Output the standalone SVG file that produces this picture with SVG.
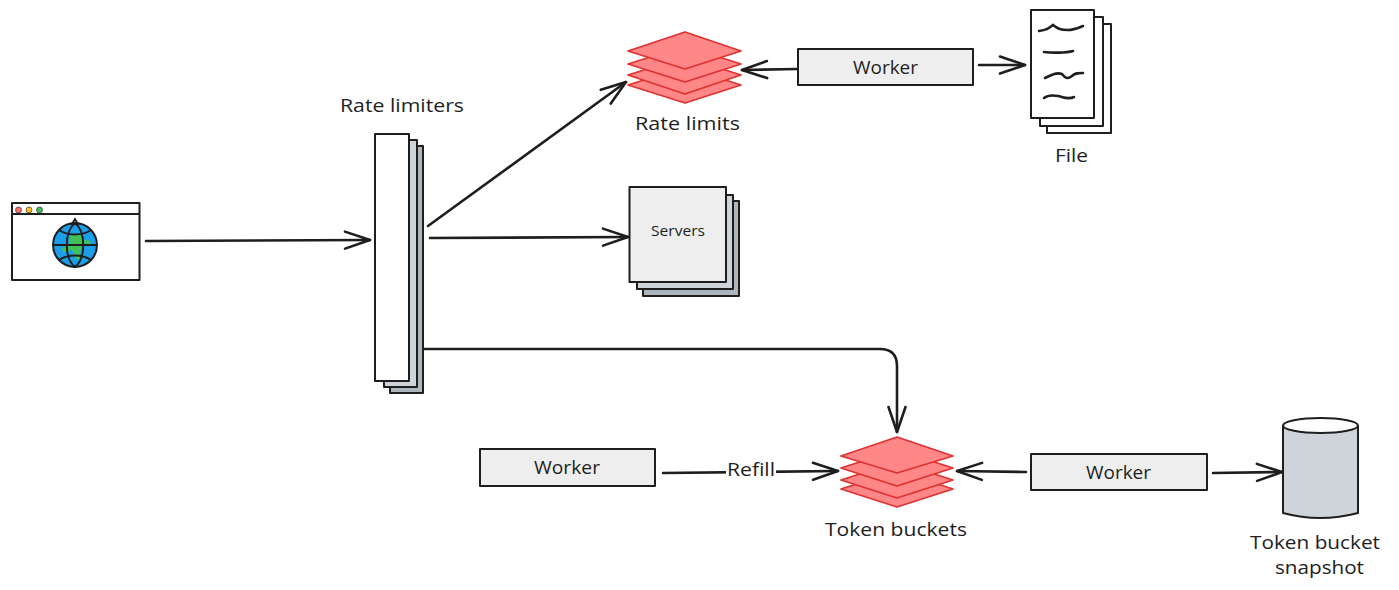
<svg xmlns="http://www.w3.org/2000/svg" width="1399" height="590" viewBox="0 0 1399 590">
<style>
.l{font-family:"Open Sans","Liberation Sans",sans-serif;font-size:18px;fill:#1e1e1e;text-anchor:middle}
.s{stroke:#1e1e1e;stroke-width:2;stroke-linejoin:round}
.c{fill:none;stroke:#1e1e1e;stroke-width:2.600;stroke-linecap:round}
.d{fill:#ff8787;stroke:#e03131;stroke-width:1.800;stroke-linejoin:round}
.w{fill:#fff}.g{fill:#eeeeee}.b{fill:#ced4da}.k{fill:#adb5bd}
</style>
<defs>
<marker id="a" markerUnits="userSpaceOnUse" markerWidth="34" markerHeight="24" refX="27" refY="12" orient="auto"><path d="M2 3.500L27 12L2 20.500" fill="none" stroke="#1e1e1e" stroke-width="2.600" stroke-linecap="round" stroke-linejoin="round"/></marker>
</defs>
<g id="connectors">
<path class="c" marker-end="url(#a)" d="M146 241L370 240"/>
<path class="c" marker-end="url(#a)" d="M428 226L626 82"/>
<path class="c" marker-end="url(#a)" d="M430 238L628 237"/>
<path class="c" marker-end="url(#a)" d="M424 349L880 349Q897 349 897 366L897 432"/>
<path class="c" marker-end="url(#a)" d="M797 69L742 70"/>
<path class="c" marker-end="url(#a)" d="M979 65L1025 65"/>
<path class="c" marker-end="url(#a)" d="M663 473L838 471"/>
<path class="c" marker-end="url(#a)" d="M1026 472L957 471"/>
<path class="c" marker-end="url(#a)" d="M1213 473L1282 472"/>
</g>
<g id="browser">
<rect class="s w" x="12" y="203" width="127.500" height="77"/>
<path class="s" fill="none" d="M11 214H140"/>
<circle cx="18.500" cy="210" r="3" fill="#ff6b6b" stroke="#1e1e1e" stroke-width=".6"/>
<circle cx="29" cy="210" r="3" fill="#fcc419" stroke="#1e1e1e" stroke-width=".6"/>
<circle cx="39.500" cy="210" r="3" fill="#40c057" stroke="#1e1e1e" stroke-width=".6"/>
<circle cx="75" cy="245" r="22" fill="#1c9fe8" stroke="#1e1e1e" stroke-width="2"/>
<path d="M70 236L80 233L84 240L91 241L90 244L82 244L80 253L82 260L76 259L72 250L63 252L62 248L69 245Z" fill="#40c057"/>
<path d="M75 223C64 232 64 258 75 267C86 258 86 232 75 223Z M53 245H97 M59 230C68 236 82 236 91 230 M59 260C68 254 82 254 91 260 M72 224L75 219L78 224Z" fill="none" stroke="#1e1e1e" stroke-width="1.900"/>
</g>
<g id="rate-limiters">
<rect class="s k" x="390" y="146" width="33" height="247"/>
<rect class="s b" x="384" y="140" width="33" height="247"/>
<rect class="s w" x="375" y="134" width="34" height="247"/>
<text class="l" x="402" y="112" textLength="124" lengthAdjust="spacingAndGlyphs">Rate limiters</text>
</g>
<g id="rate-limits">
<path class="d" d="M685 67L741 85L685 103L628 85Z"/>
<path class="d" d="M685 57L741 75L685 94L628 75Z"/>
<path class="d" d="M685 46L741 64L685 82L628 64Z"/>
<path class="d" d="M685 32L741 51L685 69L628 51Z"/>
<text class="l" x="687.500" y="130" textLength="105" lengthAdjust="spacingAndGlyphs">Rate limits</text>
</g>
<g id="worker-file">
<rect class="s g" x="798" y="49" width="175" height="36"/>
<text class="l" x="885.500" y="74" textLength="65" lengthAdjust="spacingAndGlyphs">Worker</text>
</g>
<g id="file">
<rect class="s w" x="1047" y="24" width="64" height="109"/>
<rect class="s w" x="1040" y="17" width="63" height="109"/>
<rect class="s w" x="1031" y="10" width="63" height="108"/>
<path fill="none" stroke="#1e1e1e" stroke-width="2.600" stroke-linecap="round" d="M1039 31C1046 30 1048 29 1053 25C1058 29 1061 30 1068 30C1074 30 1078 28 1083 26M1044 52C1052 53 1066 53 1073 51M1045 78C1051 75 1056 72 1062 74C1066 79 1068 79 1072 76C1075 73 1078 73 1083 73M1044 98C1048 95 1053 95 1058 96C1063 97 1068 100 1074 97"/>
<text class="l" x="1071.500" y="162" textLength="33" lengthAdjust="spacingAndGlyphs">File</text>
</g>
<g id="servers">
<rect class="s k" x="643" y="201" width="96" height="95"/>
<rect class="s b" x="637" y="195" width="96" height="94"/>
<rect class="s g" x="629.500" y="187" width="96.500" height="95"/>
<text class="l" x="678" y="236" style="font-size:14px" textLength="54" lengthAdjust="spacingAndGlyphs">Servers</text>
</g>
<g id="worker-refill">
<rect class="s g" x="480" y="449" width="175" height="37"/>
<text class="l" x="567" y="474" textLength="66" lengthAdjust="spacingAndGlyphs">Worker</text>
</g>
<g id="refill-label">
<rect x="726" y="460" width="50" height="22" fill="#fff"/>
<text class="l" x="751" y="476" textLength="48" lengthAdjust="spacingAndGlyphs">Refill</text>
</g>
<g id="token-buckets">
<path class="d" d="M897 471L953 489L897 507L841 489Z"/>
<path class="d" d="M897 462L953 480L897 498L841 480Z"/>
<path class="d" d="M897 450L953 468L897 486L841 468Z"/>
<path class="d" d="M897 437L953 456L897 473L841 456Z"/>
<text class="l" x="896" y="536" textLength="142" lengthAdjust="spacingAndGlyphs">Token buckets</text>
</g>
<g id="worker-snapshot">
<rect class="s g" x="1031" y="454" width="176" height="36"/>
<text class="l" x="1118.500" y="479" textLength="65" lengthAdjust="spacingAndGlyphs">Worker</text>
</g>
<g id="snapshot">
<path class="s b" d="M1283 426V513Q1320 523 1358 513V426Z"/>
<ellipse class="s w" cx="1320.500" cy="425.500" rx="37.500" ry="7.500"/>
<text class="l" x="1315" y="549" textLength="130" lengthAdjust="spacingAndGlyphs">Token bucket</text>
<text class="l" x="1319.500" y="574" textLength="89" lengthAdjust="spacingAndGlyphs">snapshot</text>
</g>
</svg>
